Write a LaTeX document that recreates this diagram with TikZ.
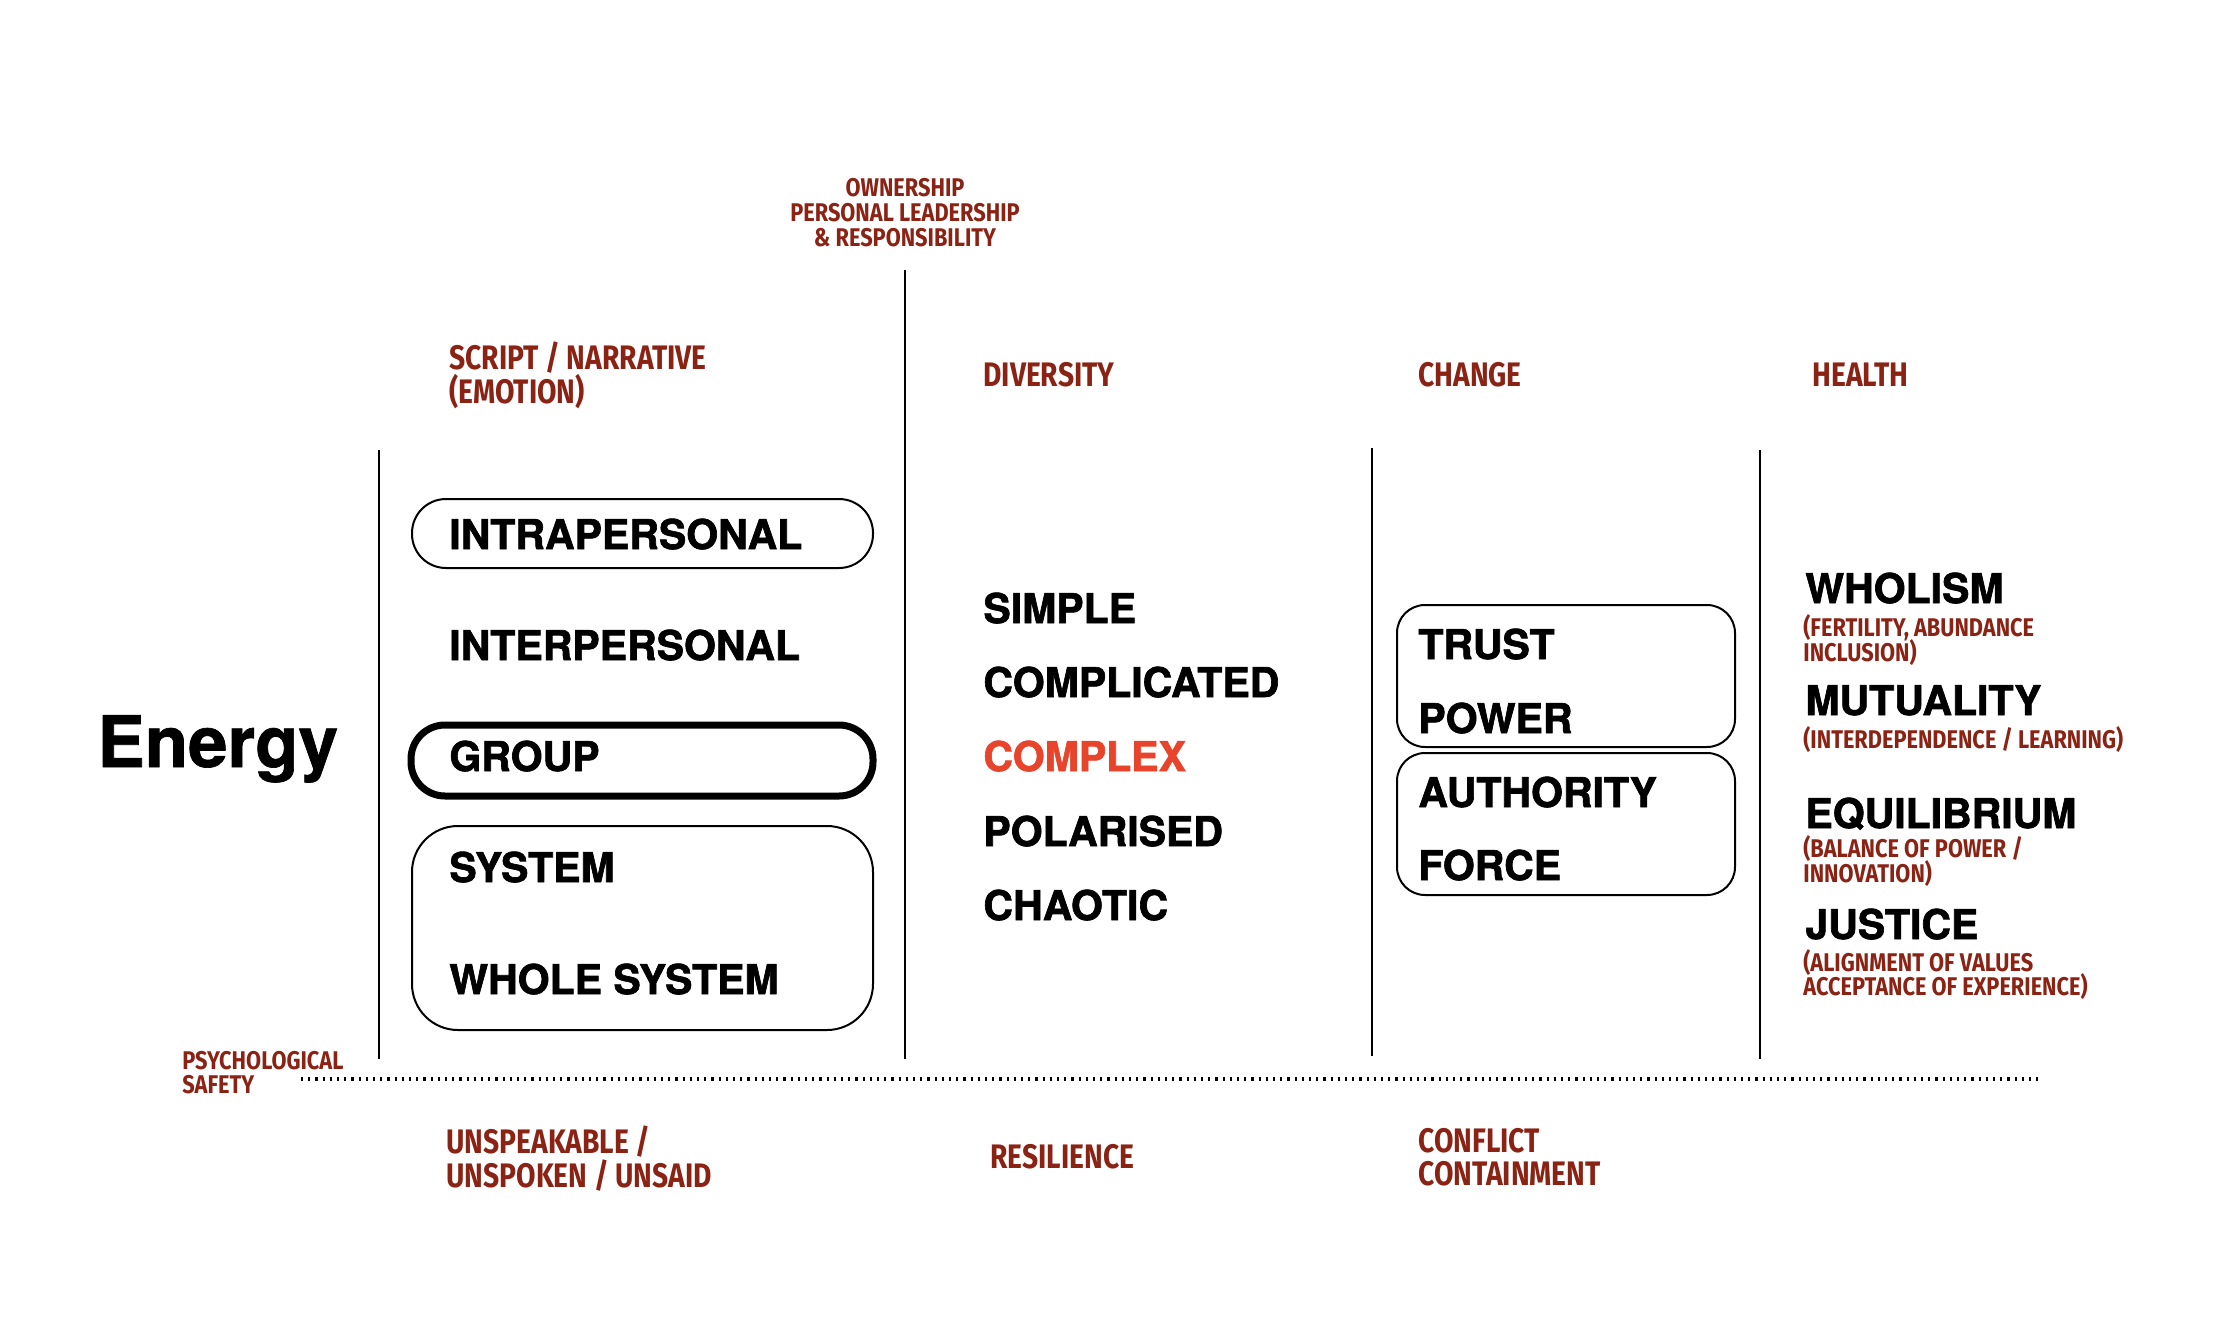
\documentclass[tikz,border=0pt]{standalone}
\usepackage{fontspec}
\setmainfont{TeX Gyre Heros}[BoldFeatures={FakeBold=1.6}]
\newfontfamily\redf[FakeStretch=0.83]{Fira Sans}
\newfontfamily\reds[FakeStretch=0.85]{Fira Sans}
\newfontfamily\energyf{TeX Gyre Heros}[BoldFeatures={FakeBold=1.0}]
\definecolor{darkred}{HTML}{8B2315}
\definecolor{brightred}{HTML}{E8432B}
\begin{document}
\begin{tikzpicture}[x=0.5pt,y=-0.5pt,
  blk/.style={anchor=base west, inner sep=0pt, font=\bfseries\fontsize{20.5}{24}\selectfont},
  redL/.style={anchor=base west, inner sep=0pt, text=darkred, font=\redf\bfseries\fontsize{17}{20}\selectfont},
  redS/.style={anchor=base west, inner sep=0pt, text=darkred, font=\reds\bfseries\fontsize{12.8}{15}\selectfont},
  redC/.style={anchor=base, inner sep=0pt, text=darkred, font=\reds\bfseries\fontsize{12.8}{15}\selectfont},
  divider/.style={line width=0.8pt},
  box/.style={line width=1pt},
  thickbox/.style={line width=3.5pt}]
\useasboundingbox[fill=white] (0,0) rectangle (2228,1328);

% dividers
\coordinate (l1t) at (379,450); \coordinate (l1b) at (379,1059);
\coordinate (l2t) at (905,270); \coordinate (l2b) at (905,1059);
\coordinate (l3t) at (1372,448); \coordinate (l3b) at (1372,1056);
\coordinate (l4t) at (1760,450); \coordinate (l4b) at (1760,1059);
\draw[divider] (l1t) -- (l1b);
\draw[divider] (l2t) -- (l2b);
\draw[divider] (l3t) -- (l3b);
\draw[divider] (l4t) -- (l4b);

% dotted line
\coordinate (dl) at (301,1079); \coordinate (dr) at (2043,1079);
\draw[line width=1.6pt, dash pattern=on 1.1pt off 2.5pt] (dl) -- (dr);

% top label
\node[redC] (own1) at (905,196) {OWNERSHIP};
\node[redC] (own2) at (905,221) {PERSONAL LEADERSHIP};
\node[redC] (own3) at (905,246) {\& RESPONSIBILITY};

% headers
\node[redL] (h1a) at (449,369) {SCRIPT / NARRATIVE};
\node[redL] (h1b) at (449,403) {(EMOTION)};
\node[redL] (h2) at (983,386) {DIVERSITY};
\node[redL] (h3) at (1418,386) {CHANGE};
\node[redL] (h4) at (1812,386) {HEALTH};

% Energy
\node[anchor=base west, inner sep=0pt, font=\energyf\bfseries\fontsize{35.5}{40}\selectfont] (energy) at (97,767) {Energy};

% column 1 boxes
\draw[box, rounded corners=17pt] (412,499) rectangle (873,568);
\draw[thickbox, rounded corners=17pt] (411,725) rectangle (873,796);
\draw[box, rounded corners=23pt] (412,826) rectangle (873,1030);
\node[blk] (intra) at (449,549) {INTRAPERSONAL};
\node[blk] (inter) at (449,660) {INTERPERSONAL};
\node[blk] (group) at (449,771) {GROUP};
\node[blk] (system) at (449,882) {SYSTEM};
\node[blk] (whole) at (449,994) {WHOLE SYSTEM};

% column 2
\node[blk] (simple) at (983,623) {SIMPLE};
\node[blk] (complicated) at (983,697) {COMPLICATED};
\node[blk, text=brightred] (complex) at (983,771) {COMPLEX};
\node[blk] (polarised) at (983,846) {POLARISED};
\node[blk] (chaotic) at (983,920) {CHAOTIC};

% column 3
\draw[box, rounded corners=14pt] (1397,605) rectangle (1735,747);
\draw[box, rounded corners=14pt] (1397,753) rectangle (1735,895);
\node[blk] (trust) at (1418,659) {TRUST};
\node[blk] (power) at (1418,733) {POWER};
\node[blk] (authority) at (1418,807) {AUTHORITY};
\node[blk] (force) at (1418,880) {FORCE};

% column 4
\node[blk] (wholism) at (1805,603) {WHOLISM};
\node[redS] (w1) at (1803,636) {(FERTILITY, ABUNDANCE};
\node[redS] (w2) at (1803,661) {INCLUSION)};
\node[blk] (mutuality) at (1805,715) {MUTUALITY};
\node[redS] (m1) at (1803,748) {(INTERDEPENDENCE / LEARNING)};
\node[blk] (equilibrium) at (1805,828) {EQUILIBRIUM};
\node[redS] (e1) at (1803,857) {(BALANCE OF POWER /};
\node[redS] (e2) at (1803,882) {INNOVATION)};
\node[blk] (justice) at (1805,939) {JUSTICE};
\node[redS] (j1) at (1803,971) {(ALIGNMENT OF VALUES};
\node[redS] (j2) at (1803,995) {ACCEPTANCE OF EXPERIENCE)};

% bottom
\node[redS] (ps1) at (182,1069) {PSYCHOLOGICAL};
\node[redS] (ps2) at (182,1093) {SAFETY};
\node[redL] (u1) at (446,1153) {UNSPEAKABLE /};
\node[redL] (u2) at (446,1187) {UNSPOKEN / UNSAID};
\node[redL] (res) at (990,1168) {RESILIENCE};
\node[redL] (c1) at (1418,1152) {CONFLICT};
\node[redL] (c2) at (1418,1185) {CONTAINMENT};
\end{tikzpicture}
\end{document}
